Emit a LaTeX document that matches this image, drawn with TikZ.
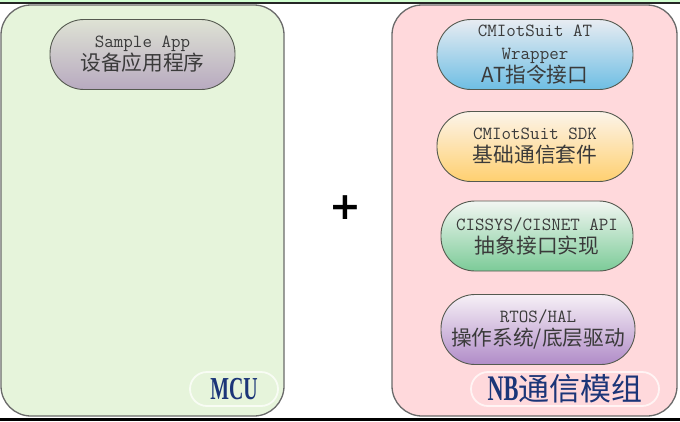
\documentclass[tikz,border=0pt]{standalone}
\usepackage{fontspec}
\newfontfamily\cjk{Noto Sans CJK SC}[Scale=1.12]
\newfontfamily\cjkbig{Noto Sans CJK SC}
\newfontfamily\labelfont{Liberation Serif}[FakeStretch=0.62]
\newfontfamily\plusfont{DejaVu Sans}
\usepackage{tikz}
\usetikzlibrary{positioning}

\definecolor{mcugreen}{HTML}{E6F4DB}
\definecolor{nbpink}{HTML}{FFD9DC}
\definecolor{frameline}{HTML}{6A6A6A}
\definecolor{boxline}{HTML}{555A50}
\definecolor{txtgray}{HTML}{3A3A3A}
\definecolor{lblblue}{HTML}{1B3578}

\begin{document}
\begin{tikzpicture}[
      x=1pt, y=-1pt,
      font=\ttfamily\fontsize{18.5}{23}\selectfont,
      container/.style={draw=frameline, line width=1.3pt, rounded corners=30pt,
                        inner sep=0pt},
      layer/.style={draw=boxline, line width=0.9pt, rounded corners=34pt,
                    minimum height=70pt, align=center, text=txtgray,
                    inner sep=0pt},
      tag/.style={draw=white!70!#1, line width=1.8pt, rounded corners=17pt,
                  fill=#1, minimum height=34pt, inner sep=0pt, text=lblblue}
    ]
    \useasboundingbox (0,0) rectangle (680,421);
    % screenshot edges
    \fill[green!18] (0,0) rectangle (680,2);
    \draw[black!85, line width=1.5pt] (0,3) -- (680,3);
    \fill[black] (0,418) rectangle (680,421);

    % the two parts
    \node[container, fill=mcugreen, minimum width=283pt, minimum height=411pt]
      (mcu) at (142.5,210.5) {};
    \node[container, fill=nbpink, minimum width=285pt, minimum height=411pt]
      (nb) at (534.5,210.5) {};

    % MCU side
    \node[layer, minimum width=185pt, top color={rgb,255:red,222;green,226;blue,212},
          bottom color={rgb,255:red,184;green,170;blue,192}]
      (app) at (142.5,54.5) {Sample App\\{\cjk 设备应用程序}};
    \node[tag=mcugreen, minimum width=88pt] (mcutag) at (234,389)
      {\labelfont\bfseries\fontsize{32}{32}\selectfont MCU};

    % plus sign
    \node[font=\plusfont\bfseries\fontsize{38}{38}\selectfont] (plus) at (345,208) {+};

    % NB module layers
    \node[layer, minimum width=196pt, top color={rgb,255:red,232;green,236;blue,242},
          bottom color={rgb,255:red,110;green,190;blue,228}]
      (atw) at (535,54.5) {CMIotSuit AT\\Wrapper\\{\cjk AT指令接口}};
    \node[layer, minimum width=196pt, top color={rgb,255:red,252;green,244;blue,234},
          bottom color={rgb,255:red,255;green,208;blue,112}]
      (sdk) at (535,146.5) {CMIotSuit SDK\\{\cjk 基础通信套件}};
    \node[layer, minimum width=192pt, top color={rgb,255:red,242;green,246;blue,242},
          bottom color={rgb,255:red,124;green,203;blue,152}]
      (api) at (537,236) {CISSYS/CISNET API\\{\cjk 抽象接口实现}};
    \node[layer, minimum width=194pt, top color={rgb,255:red,246;green,240;blue,246},
          bottom color={rgb,255:red,176;green,140;blue,200}]
      (hal) at (538,329.5) {RTOS/HAL\\{\cjk 操作系统/底层驱动}};
    \node[tag=nbpink, minimum width=188pt] (nbtag) at (565,389)
      {\labelfont\bfseries\fontsize{36}{36}\selectfont NB\cjkbig\mdseries\fontsize{31}{31}\selectfont 通信模组};
  \end{tikzpicture}
\end{document}
